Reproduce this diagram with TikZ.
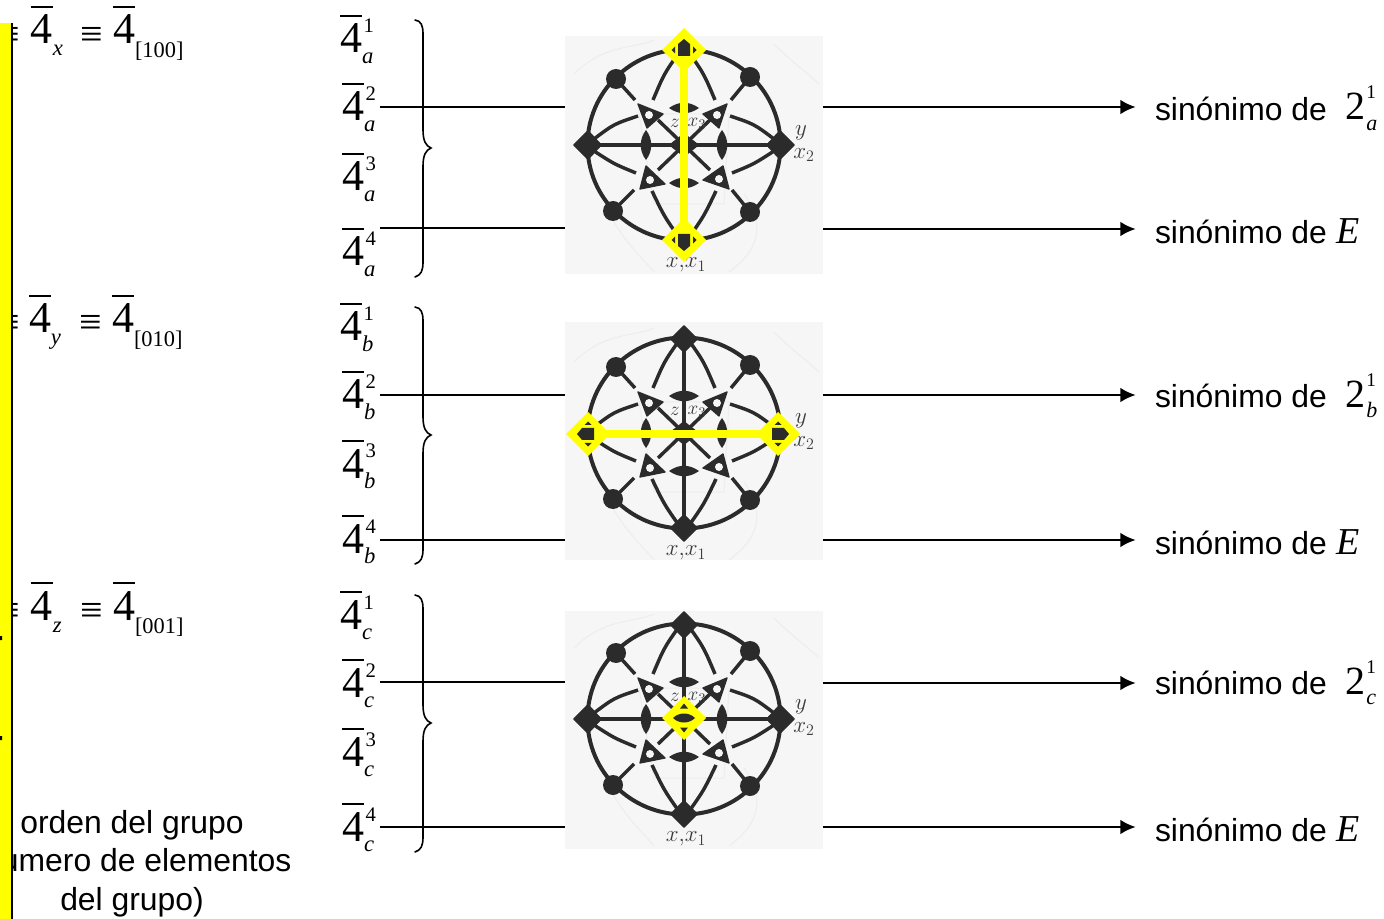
\documentclass[tikz,border=0pt]{standalone}
\usepackage{fontspec}
\setmainfont{Liberation Serif}
\newfontfamily\arialf{Liberation Sans}
\definecolor{ink}{HTML}{2B2B2B}
\definecolor{paper}{HTML}{F6F6F6}
\definecolor{ghost}{HTML}{EDEDED}
\definecolor{labgray}{HTML}{3C3C3C}
\definecolor{hlyellow}{RGB}{255,255,0}
\usetikzlibrary{arrows.meta}
\newcommand{\fsz}[1]{\fontsize{#1}{#1}\selectfont}
% 4 with an overbar
\newcommand{\fourbar}{\rlap{\rule[27pt]{16.5pt}{1.15pt}}{\fsz{33pt}4}}
\newcommand{\barsupsub}[2]{\fourbar\rlap{\raisebox{15pt}{\hspace{1.2pt}\fsz{15.5pt}#1}}\raisebox{-8.2pt}{\fsz{17pt}\itshape #2}}
\newcommand{\twosupsub}[2]{{\fsz{30pt}2}\rlap{\raisebox{15.75pt}{\hspace{1pt}\fsz{14.5pt}#1}}\raisebox{-8pt}{\hspace{1pt}\fsz{16.5pt}\itshape #2}}
\newcommand{\sintext}[1]{{\arialf\fsz{23.9pt}sinónimo de}#1}
\newcommand{\stereo}[1]{%
\begin{scope}[shift={(684,#1)}]
 \draw[ghost,line width=.75pt] (-110,-70) .. controls (-80,-100) and (-50,-95) .. (-30,-104)
   (60,50) .. controls (85,85) and (70,110) .. (45,128)
   (-80,60) .. controls (-60,100) and (-40,115) .. (-30,128)
   (-45,-30) -- (-30,60) -- (40,60) -- (45,-30) -- cycle
   (90,-100) .. controls (110,-80) and (125,-70) .. (135,-60);
 \draw[ink,line width=3pt] (0,1) circle [x radius=96.5,y radius=95.5];
 \draw[ink,line width=3pt] (-96,1) -- (96,1) (0,-94) -- (0,96);
 \draw[ink,line width=2.6pt]
   (-26,-24) -- (26,26) (26,-24) -- (-26,26)
   (-68,-65) -- (-49,-44) (66,-67) -- (47,-44) (-71,67) -- (-50,46) (66,68) -- (48,46)
   (-6,-90) .. controls (-20,-70) .. (-31,-44)
   (6,-90) .. controls (20,-70) .. (31,-44)
   (-6,92) .. controls (-20,72) .. (-32,47)
   (6,92) .. controls (20,72) .. (32,47)
   (-90,-5) .. controls (-70,-20) .. (-46,-28)
   (90,-5) .. controls (70,-20) .. (46,-28)
   (-90,7) .. controls (-70,20) .. (-48,29)
   (90,7) .. controls (70,20) .. (48,29);
 \filldraw[ink,line width=1.2pt,line join=round] (-110,1) -- (-96,-13) -- (-83,1) -- (-96,15) -- cycle
   (110,1) -- (96,-13) -- (83,1) -- (96,15) -- cycle
   (0,-106) -- (13,-93) -- (0,-80) -- (-13,-93) -- cycle
   (0,109) -- (13,96) -- (0,83) -- (-13,96) -- cycle
   (14,1) -- (0,12) -- (-14,1) -- (0,-10) -- cycle;
 \fill[ink] (-68,-65) circle [radius=10] (66,-67) circle [radius=10]
   (-71,67) circle [radius=10] (66,68) circle [radius=10];
 \fill[ink] (-15,-36) .. controls (-5,-43) and (5,-43) .. (15,-36) .. controls (5,-29) and (-5,-29) .. (-15,-36) -- cycle
   (-15,39) .. controls (-5,32) and (5,32) .. (15,39) .. controls (5,46) and (-5,46) .. (-15,39) -- cycle
   (-38,-14) .. controls (-45,-5) and (-45,7) .. (-38,16) .. controls (-31,7) and (-31,-5) .. (-38,-14) -- cycle
   (38,-14) .. controls (31,-5) and (31,7) .. (38,16) .. controls (45,7) and (45,-5) .. (38,-14) -- cycle;
 \filldraw[ink,line width=1pt,line join=round] (-46,-40) -- (-21,-30) -- (-37,-16) -- cycle
   (43,-40) -- (19,-30) -- (35,-16) -- cycle
   (-44,45) -- (-19,40) -- (-38,22) -- cycle
   (45,45) -- (19,36) -- (39,22) -- cycle;
 \fill[paper] (-35,-29) circle [radius=4] (33,-29) circle [radius=4]
   (-34,36) circle [radius=4] (35,35) circle [radius=4];
\end{scope}}
% yellow mark: a yellow square on its point, with the dark part of the symbol in it
\newcommand{\ymark}[3]{%
\begin{scope}[shift={(#1,#2)},rotate=#3]
 \fill[hlyellow] (0,-22) -- (22,0) -- (0,22) -- (-22,0) -- cycle;
\end{scope}}
\newcommand{\ysym}[3]{%
\begin{scope}[shift={(#1,#2)},rotate=#3]
 \fill[ink] (0,-11) -- (6,-6) -- (6,6) -- (-6,6) -- (-6,-6) -- cycle
   (-12.5,0) -- (-9,-3.5) -- (-9,3.5) -- cycle (12.5,0) -- (9,-3.5) -- (9,3.5) -- cycle;
\end{scope}}
\tikzset{
 txt/.style={inner sep=0pt,outer sep=0pt,anchor=base west,text=black},
 panel/.style={fill=paper,draw=none,minimum width=193.5pt,minimum height=178.5pt,inner sep=0pt},
 leftline/.style={black,line width=1.5pt},
 rightline/.style={black,line width=1.5pt,-{Latex[length=11.5pt,width=11pt,sharp]},shorten >=14.5pt},
 yline/.style={hlyellow,line width=6.5pt},
 brace/.style={black,line width=1.2pt,line cap=round},
 plab/.style={inner sep=0pt,text=labgray}
}
\newcommand{\brc}[1]{%
\begin{scope}[shift={(0,#1)}]
 \draw[brace] (415,20) .. controls (421,21) and (423,25) .. (423,34) -- (423,130)
   .. controls (423,141) and (426,146) .. (431,148) .. controls (426,150) and (423,155) .. (423,166)
   -- (423,262) .. controls (423,271) and (421,275) .. (415,277);
\end{scope}}
\begin{document}
\begin{tikzpicture}[x=.75pt,y=-.75pt]
\useasboundingbox (0,0) rectangle (1384,919);
\fill[white] (0,0) rectangle (1384,919);

% panels
\node[panel] (pa) at (694,155) {};
\node[panel] (pb) at (694,441) {};
\node[panel] (pc) at (694,729.5) {};
\stereo{144}\stereo{432}\stereo{718}
\foreach \pn/\py in {a/144,b/432,c/718}{
 \node[plab,font=\fsz{15pt}] (z\pn) at (675,\py-21) {$z$};
 \node[plab,font=\fsz{15pt}] (xt\pn) at (697,\py-20) {$x_3$};
 \node[plab,font=\fsz{17pt}] (yy\pn) at (801,\py-11) {$y$};
 \node[plab,font=\fsz{17pt}] (xb\pn) at (804,\py+11) {$x_2$};
 \node[plab,font=\fsz{17pt}] (xx\pn) at (686,\py+121) {$x,\!x_1$};
}
% yellow highlights
\ymark{684}{50}{0}\ymark{684}{240}{0}
\draw[yline] (684,50) -- (684,240);
\ysym{684}{50}{0}\ysym{684}{240}{180}
\ymark{588}{434}{0}\ymark{778}{434}{0}
\draw[yline] (588,434) -- (778,434);
\ysym{588}{434}{90}\ysym{778}{434}{-90}
\ymark{684}{718}{0}
\fill[ink] (673,718) .. controls (679,712) and (689,712) .. (695,718) .. controls (689,724) and (679,724) .. (673,718) -- cycle
  (684,703.5) -- (688,708.5) -- (680,708.5) -- cycle
  (684,732.5) -- (688,727.5) -- (680,727.5) -- cycle;

% labels column
\node[txt] (a1) at (340,53) {\barsupsub{1}{a}};
\node[txt] (a2) at (342,121) {\barsupsub{2}{a}};
\node[txt] (a3) at (342,191) {\barsupsub{3}{a}};
\node[txt] (a4) at (342,266) {\barsupsub{4}{a}};
\node[txt] (b1) at (340,341) {\barsupsub{1}{b}};
\node[txt] (b2) at (342,409) {\barsupsub{2}{b}};
\node[txt] (b3) at (342,478) {\barsupsub{3}{b}};
\node[txt] (b4) at (342,553) {\barsupsub{4}{b}};
\node[txt] (c1) at (340,629) {\barsupsub{1}{c}};
\node[txt] (c2) at (342,697) {\barsupsub{2}{c}};
\node[txt] (c3) at (342,766) {\barsupsub{3}{c}};
\node[txt] (c4) at (342,841) {\barsupsub{4}{c}};
\brc{0}\brc{287}\brc{575}

% right texts
\node[txt] (sa1) at (1155,121) {\sintext{}};
\node[txt] (ta1) at (1345,120) {\twosupsub{1}{a}};
\node[txt] (sa2) at (1155,244) {\sintext{\hspace{7pt}{\fsz{28.5pt}\itshape E}}};
\node[txt] (sb1) at (1155,407) {\sintext{}};
\node[txt] (tb1) at (1345,407) {\twosupsub{1}{b}};
\node[txt] (sb2) at (1155,554) {\sintext{\hspace{7pt}{\fsz{28.5pt}\itshape E}}};
\node[txt] (sc1) at (1155,694) {\sintext{}};
\node[txt] (tc1) at (1345,694) {\twosupsub{1}{c}};
\node[txt] (sc2) at (1155,841) {\sintext{\hspace{7pt}{\fsz{28.5pt}\itshape E}}};

% connectors
\foreach \lab/\pan/\txtn/\yl/\yr in {a2/pa/sa1/107/107,a4/pa/sa2/228/229,
   b2/pb/sb1/395/395,b4/pb/sb2/540/540,c2/pc/sc1/682/683,c4/pc/sc2/827/827}{
 \coordinate (yl) at (380,\yl);
 \coordinate (yr) at (0,\yr);
 \coordinate (yp) at (0,\yl);
 \draw[leftline] (yl) -- (\pan.west |- yp);
 \draw[rightline] (\pan.east |- yr) -- (\txtn.west |- yr);
}

% left equations
\node[txt,anchor=base east,font=\fsz{30pt}] (e1l) at (20,48) {≡};
\node[txt] (x1) at (31,44) {\fourbar\raisebox{-9pt}{\fsz{17pt}\itshape x}};
\node[txt,font=\fsz{30pt}] (e1) at (80,48) {≡};
\node[txt] (x2) at (113,44) {\fourbar\raisebox{-10pt}{\fsz{16.8pt}[100]}};
\node[txt,anchor=base east,font=\fsz{30pt}] (e2l) at (20,336) {≡};
\node[txt] (y1) at (29,333) {\fourbar\raisebox{-9pt}{\fsz{17pt}\itshape y}};
\node[txt,font=\fsz{30pt}] (e2) at (79,336) {≡};
\node[txt] (y2) at (112,333) {\fourbar\raisebox{-10pt}{\fsz{16.8pt}[010]}};
\node[txt,anchor=base east,font=\fsz{30pt}] (e3l) at (20,623) {≡};
\node[txt] (z1) at (31,620) {\fourbar\raisebox{-9pt}{\fsz{17pt}\itshape z}};
\node[txt,font=\fsz{30pt}] (e3) at (80,623) {≡};
\node[txt] (z2) at (113,620) {\fourbar\raisebox{-10pt}{\fsz{16.8pt}[001]}};

% bottom-left text
\node[txt,anchor=base,font=\arialf\fsz{23.9pt}] (o1) at (132,833) {orden del grupo};
\node[txt,anchor=base,font=\arialf\fsz{23.9pt}] (o2) at (132,871) {(numero de elementos};
\node[txt,anchor=base,font=\arialf\fsz{23.9pt}] (o3) at (132,910) {del grupo)};

% yellow bar
\fill[hlyellow] (0,23) rectangle (11,919);
\fill[black] (11,23) rectangle (13,919);
\fill[black] (0,636) rectangle (2,640) (0,736) rectangle (2,740);
\end{tikzpicture}
\end{document}
